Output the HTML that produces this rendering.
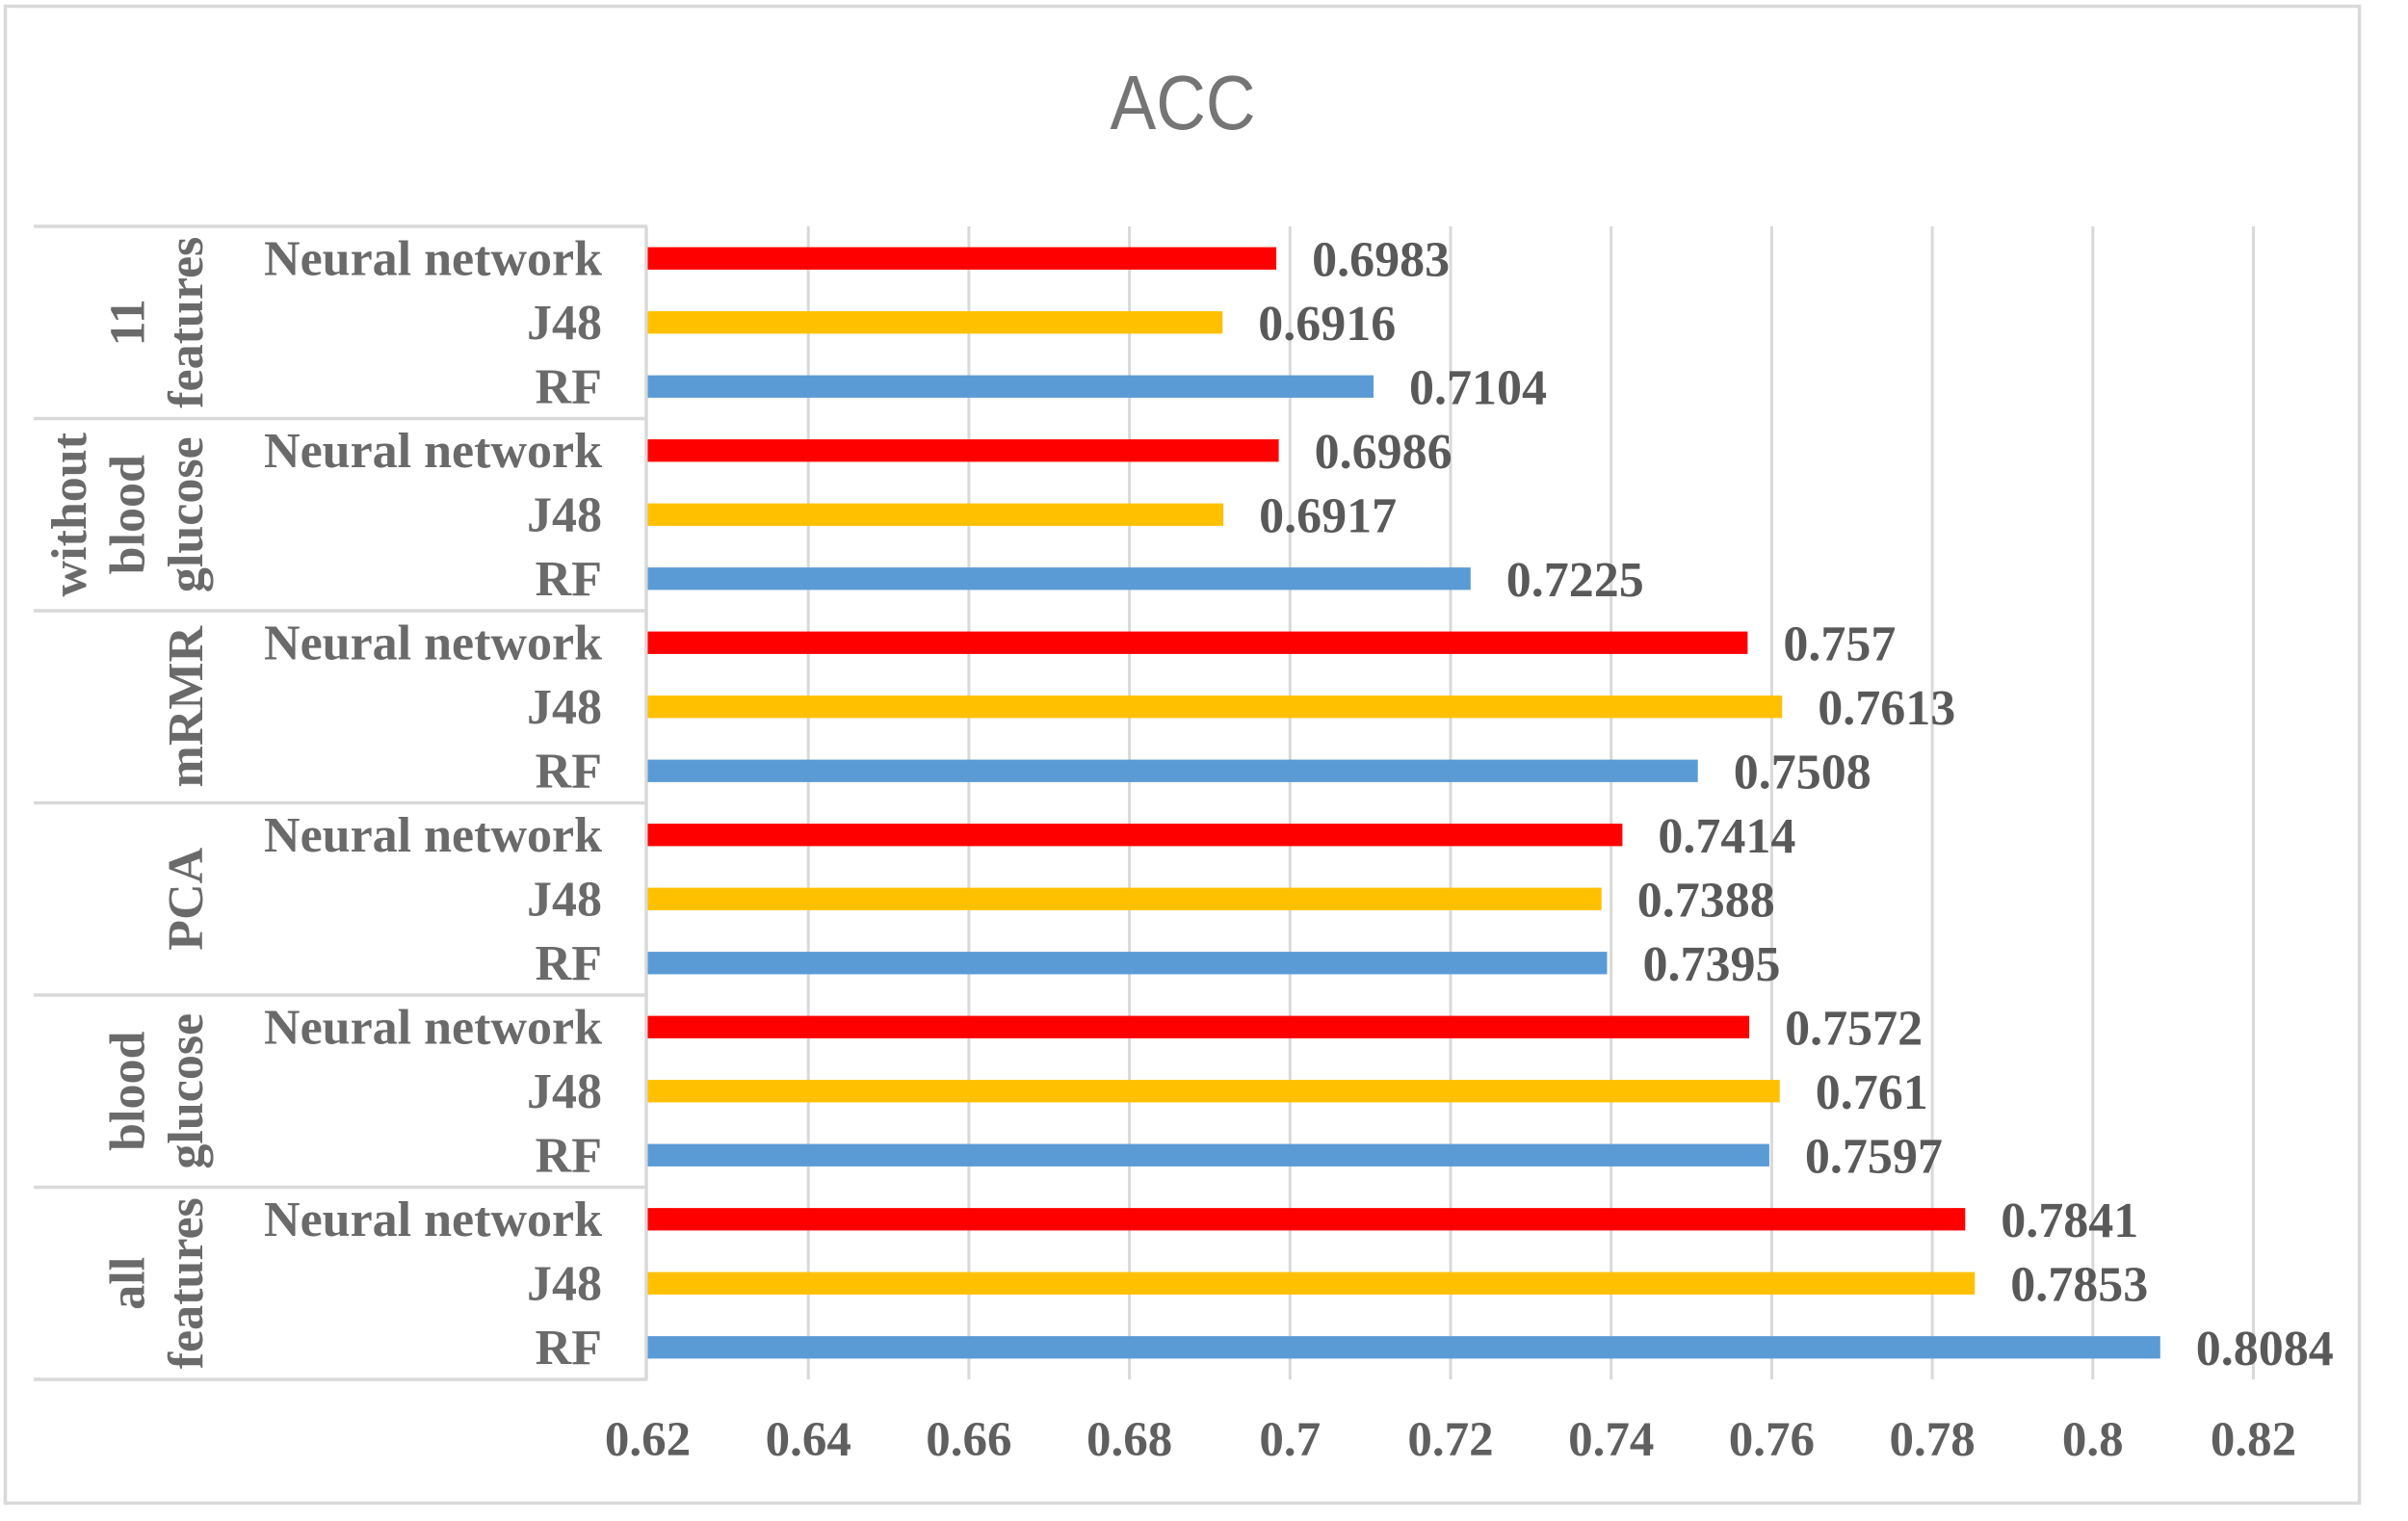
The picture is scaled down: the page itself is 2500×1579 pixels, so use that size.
<!DOCTYPE html>
<html>
<head>
<meta charset="utf-8">
<style>
  html, body { margin: 0; padding: 0; background: #ffffff; }
  svg { display: block; }
  .cat { font-family: "Liberation Serif", serif; font-weight: bold; font-size: 52px; fill: #6a6a6a; }
  .val { font-family: "Liberation Serif", serif; font-weight: bold; font-size: 52px; fill: #595959; }
  .tick { font-family: "Liberation Serif", serif; font-weight: bold; font-size: 51px; fill: #5f5f5f; }
  .title { font-family: "Liberation Sans", sans-serif; font-size: 80px; fill: #757575; }
</style>
</head>
<body>
<svg width="2500" height="1579" viewBox="0 0 2500 1579" xmlns="http://www.w3.org/2000/svg">
  <rect x="0" y="0" width="2500" height="1579" fill="#ffffff"/>
  <!-- outer frame -->
  <rect x="5.5" y="6.5" width="2444" height="1554" fill="none" stroke="#d9d9d9" stroke-width="3.5"/>

  <!-- title -->
  <text class="title" x="1228" y="134" text-anchor="middle" textLength="151" lengthAdjust="spacingAndGlyphs">ACC</text>

  <!-- gridlines -->
  <g stroke="#d9d9d9" stroke-width="3">
    <line x1="839.2" y1="235" x2="839.2" y2="1432"/>
    <line x1="1005.9" y1="235" x2="1005.9" y2="1432"/>
    <line x1="1172.6" y1="235" x2="1172.6" y2="1432"/>
    <line x1="1339.3" y1="235" x2="1339.3" y2="1432"/>
    <line x1="1506.0" y1="235" x2="1506.0" y2="1432"/>
    <line x1="1672.7" y1="235" x2="1672.7" y2="1432"/>
    <line x1="1839.4" y1="235" x2="1839.4" y2="1432"/>
    <line x1="2006.1" y1="235" x2="2006.1" y2="1432"/>
    <line x1="2172.8" y1="235" x2="2172.8" y2="1432"/>
    <line x1="2339.5" y1="235" x2="2339.5" y2="1432"/>
  </g>

  <!-- category table lines -->
  <g stroke="#d9d9d9" stroke-width="3.5">
    <line x1="35" y1="235" x2="672" y2="235"/>
    <line x1="35" y1="434.5" x2="672" y2="434.5"/>
    <line x1="35" y1="634" x2="672" y2="634"/>
    <line x1="35" y1="833.5" x2="672" y2="833.5"/>
    <line x1="35" y1="1033" x2="672" y2="1033"/>
    <line x1="35" y1="1232.5" x2="672" y2="1232.5"/>
    <line x1="35" y1="1432" x2="672" y2="1432"/>
    <line x1="671" y1="235" x2="671" y2="1432"/>
  </g>

  <!-- bars -->
  <g>
    <!-- group 0: 11 features -->
    <rect x="672.5" y="256.6" width="652.6" height="23.3" fill="#ff0000"/>
    <rect x="672.5" y="323.1" width="596.8" height="23.3" fill="#ffc000"/>
    <rect x="672.5" y="389.6" width="753.5" height="23.3" fill="#5b9bd5"/>
    <!-- group 1: without blood glucose -->
    <rect x="672.5" y="456.1" width="655.1" height="23.3" fill="#ff0000"/>
    <rect x="672.5" y="522.6" width="597.6" height="23.3" fill="#ffc000"/>
    <rect x="672.5" y="589.1" width="854.3" height="23.3" fill="#5b9bd5"/>
    <!-- group 2: mRMR -->
    <rect x="672.5" y="655.6" width="1141.9" height="23.3" fill="#ff0000"/>
    <rect x="672.5" y="722.1" width="1177.7" height="23.3" fill="#ffc000"/>
    <rect x="672.5" y="788.6" width="1090.2" height="23.3" fill="#5b9bd5"/>
    <!-- group 3: PCA -->
    <rect x="672.5" y="855.1" width="1011.9" height="23.3" fill="#ff0000"/>
    <rect x="672.5" y="921.6" width="990.2" height="23.3" fill="#ffc000"/>
    <rect x="672.5" y="988.1" width="996.0" height="23.3" fill="#5b9bd5"/>
    <!-- group 4: blood glucose -->
    <rect x="672.5" y="1054.6" width="1143.6" height="23.3" fill="#ff0000"/>
    <rect x="672.5" y="1121.1" width="1175.2" height="23.3" fill="#ffc000"/>
    <rect x="672.5" y="1187.6" width="1164.4" height="23.3" fill="#5b9bd5"/>
    <!-- group 5: all features -->
    <rect x="672.5" y="1254.1" width="1367.8" height="23.3" fill="#ff0000"/>
    <rect x="672.5" y="1320.6" width="1377.8" height="23.3" fill="#ffc000"/>
    <rect x="672.5" y="1387.1" width="1570.3" height="23.3" fill="#5b9bd5"/>
  </g>

  <!-- data labels -->
  <g class="val">
    <text x="1362.1" y="286.3">0.6983</text>
    <text x="1306.3" y="352.8">0.6916</text>
    <text x="1463.0" y="419.3">0.7104</text>
    <text x="1364.6" y="485.8">0.6986</text>
    <text x="1307.1" y="552.3">0.6917</text>
    <text x="1563.8" y="618.8">0.7225</text>
    <text x="1851.4" y="685.3">0.757</text>
    <text x="1887.2" y="751.8">0.7613</text>
    <text x="1799.7" y="818.3">0.7508</text>
    <text x="1721.4" y="884.8">0.7414</text>
    <text x="1699.7" y="951.3">0.7388</text>
    <text x="1705.5" y="1017.8">0.7395</text>
    <text x="1853.1" y="1084.3">0.7572</text>
    <text x="1884.7" y="1150.8">0.761</text>
    <text x="1873.9" y="1217.3">0.7597</text>
    <text x="2077.3" y="1283.8">0.7841</text>
    <text x="2087.3" y="1350.3">0.7853</text>
    <text x="2279.8" y="1416.8">0.8084</text>
  </g>

  <!-- category labels -->
  <g class="cat" text-anchor="end">
    <text x="625" y="285.3">Neural network</text>
    <text x="625" y="351.8">J48</text>
    <text x="625" y="418.3">RF</text>
    <text x="625" y="484.8">Neural network</text>
    <text x="625" y="551.3">J48</text>
    <text x="625" y="617.8">RF</text>
    <text x="625" y="684.3">Neural network</text>
    <text x="625" y="750.8">J48</text>
    <text x="625" y="817.3">RF</text>
    <text x="625" y="883.8">Neural network</text>
    <text x="625" y="950.3">J48</text>
    <text x="625" y="1016.8">RF</text>
    <text x="625" y="1083.3">Neural network</text>
    <text x="625" y="1149.8">J48</text>
    <text x="625" y="1216.3">RF</text>
    <text x="625" y="1282.8">Neural network</text>
    <text x="625" y="1349.3">J48</text>
    <text x="625" y="1415.8">RF</text>
  </g>

  <!-- group labels (rotated) -->
  <g class="cat" text-anchor="middle">
    <text transform="translate(149.5,334.75) rotate(-90)">11</text>
    <text transform="translate(210,334.75) rotate(-90)">features</text>

    <text transform="translate(89,534.25) rotate(-90)">without</text>
    <text transform="translate(149.5,534.25) rotate(-90)">blood</text>
    <text transform="translate(210,534.25) rotate(-90)">glucose</text>

    <text transform="translate(210,733.75) rotate(-90)">mRMR</text>

    <text transform="translate(210,933.25) rotate(-90)">PCA</text>

    <text transform="translate(149.5,1132.75) rotate(-90)">blood</text>
    <text transform="translate(210,1132.75) rotate(-90)">glucose</text>

    <text transform="translate(149.5,1332.25) rotate(-90)">all</text>
    <text transform="translate(210,1332.25) rotate(-90)">features</text>
  </g>

  <!-- x-axis tick labels -->
  <g class="tick" text-anchor="middle">
    <text x="672.5" y="1511">0.62</text>
    <text x="839.2" y="1511">0.64</text>
    <text x="1005.9" y="1511">0.66</text>
    <text x="1172.6" y="1511">0.68</text>
    <text x="1339.3" y="1511">0.7</text>
    <text x="1506.0" y="1511">0.72</text>
    <text x="1672.7" y="1511">0.74</text>
    <text x="1839.4" y="1511">0.76</text>
    <text x="2006.1" y="1511">0.78</text>
    <text x="2172.8" y="1511">0.8</text>
    <text x="2339.5" y="1511">0.82</text>
  </g>
</svg>
</body>
</html>
